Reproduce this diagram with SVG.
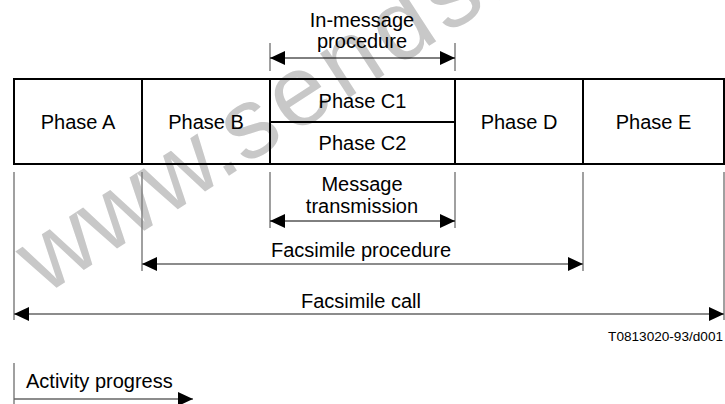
<svg xmlns="http://www.w3.org/2000/svg" width="725" height="404" viewBox="0 0 725 404">
<style>
text{font-family:"Liberation Sans",Arial,sans-serif;font-size:20px;fill:#000}
.c{text-anchor:middle}
.box{fill:none;stroke:#000;stroke-width:2}
.tick{stroke:#808080;stroke-width:1.5;fill:none}
.a1{stroke:#000;stroke-width:1;fill:none}
.a2{stroke:#666;stroke-width:1.6;fill:none}
.wm{font-size:100px;fill:#c8c8c8}
</style>
<defs>
<marker id="ah" markerUnits="userSpaceOnUse" markerWidth="15" markerHeight="14" refX="15" refY="7" orient="auto-start-reverse" viewBox="0 0 15 14">
<path d="M0,0 L15,7 L0,14 z" fill="#000"/>
</marker>
</defs>
<rect x="0" y="0" width="725" height="404" fill="#fff"/>
<g id="watermark">
<text class="wm" x="44.3" y="295.8" transform="rotate(-33 44.3 295.8)"><tspan>www.</tspan><tspan style="letter-spacing:6px">sendsh</tspan></text>
</g>
<g id="phaseA"><rect class="box" x="14" y="79" width="128" height="85"/><text class="c" x="78" y="129">Phase A</text></g>
<g id="phaseB"><rect class="box" x="142" y="79" width="128" height="85"/><text class="c" x="206" y="129">Phase B</text></g>
<g id="phaseC1"><rect class="box" x="270" y="79" width="185" height="43"/><text class="c" x="362.5" y="108">Phase C1</text></g>
<g id="phaseC2"><rect class="box" x="270" y="122" width="185" height="42"/><text class="c" x="362.5" y="150">Phase C2</text></g>
<g id="phaseD"><rect class="box" x="455" y="79" width="128" height="85"/><text class="c" x="519" y="129">Phase D</text></g>
<g id="phaseE"><rect class="box" x="583" y="79" width="141" height="85"/><text class="c" x="653.5" y="129">Phase E</text></g>
<g id="connectors">
<line class="tick" x1="270" y1="43" x2="270" y2="71"/>
<line class="tick" x1="455" y1="43" x2="455" y2="71"/>
<line class="a1" x1="270" y1="58" x2="455" y2="58" marker-start="url(#ah)" marker-end="url(#ah)"/>
<line class="tick" x1="14" y1="172" x2="14" y2="320"/>
<line class="tick" x1="142" y1="172" x2="142" y2="271"/>
<line class="tick" x1="270" y1="172" x2="270" y2="228"/>
<line class="tick" x1="455" y1="172" x2="455" y2="228"/>
<line class="tick" x1="583" y1="172" x2="583" y2="271"/>
<line class="tick" x1="724" y1="172" x2="724" y2="320"/>
<line class="a1" x1="270" y1="221" x2="455" y2="221" marker-start="url(#ah)" marker-end="url(#ah)"/>
<line class="a2" x1="142" y1="264" x2="583" y2="264" marker-start="url(#ah)" marker-end="url(#ah)"/>
<line class="a2" x1="14" y1="314" x2="724" y2="314" marker-start="url(#ah)" marker-end="url(#ah)"/>
<line class="tick" x1="14" y1="363" x2="14" y2="404"/>
<line class="a2" x1="14" y1="399" x2="193" y2="399" marker-end="url(#ah)"/>
</g>
<g id="labels">
<text class="c" x="362" y="27">In-message</text>
<text class="c" x="362" y="48">procedure</text>
<text class="c" x="362" y="191">Message</text>
<text class="c" x="362" y="213">transmission</text>
<text class="c" x="361" y="257">Facsimile procedure</text>
<text class="c" x="361" y="308">Facsimile call</text>
<text x="723" y="341" style="font-size:13.6px;text-anchor:end">T0813020-93/d001</text>
<text x="26" y="388">Activity progress</text>
</g>
</svg>
